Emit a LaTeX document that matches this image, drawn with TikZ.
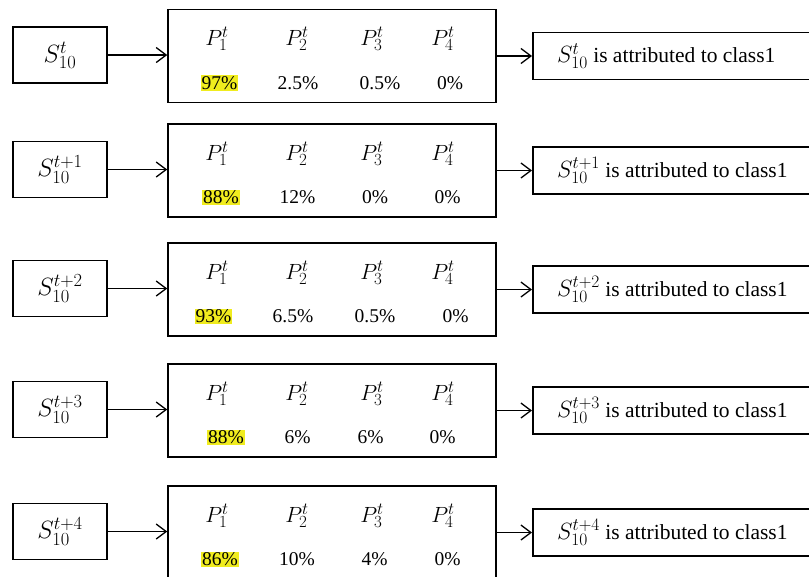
\RequirePackage{fix-cm}
\documentclass[tikz,border=0pt]{standalone}
\usepackage{fontspec}
\setmainfont{Liberation Serif}
\usetikzlibrary{arrows.meta}
\DeclareMathSizes{25}{25}{18.5}{14}
\DeclareMathSizes{23.5}{23.5}{17.5}{13}
\DeclareMathSizes{22}{22}{17}{13}
\definecolor{hl}{RGB}{240,236,30}
\tikzset{
  box/.style={draw=black, line width=1.5pt, inner sep=0pt},
  leftbox/.style={box, minimum width=94pt, minimum height=56pt, font=\fontsize{25}{29}\selectfont},
  midbox/.style={box, minimum width=328pt, minimum height=93pt},
  rightbox/.style={box, minimum width=300pt, minimum height=47pt, anchor=west},
  plabel/.style={inner sep=0pt, font=\fontsize{22}{26}\selectfont},
  val/.style={inner sep=0pt, font=\fontsize{19.5}{23}\selectfont},
  hval/.style={val, fill=hl, inner sep=1pt},
  rtext/.style={inner sep=0pt, anchor=west, font=\fontsize{21.5}{26}\selectfont},
  conn/.style={line width=1.3pt, -{Straight Barb[length=10pt,width=15pt,line width=1.3pt]}}
}
\newcommand{\bigS}[1]{{\fontsize{23.5}{27}\selectfont$S_{10}^{#1}$}}
\begin{document}
\begin{tikzpicture}[x=1pt,y=-1pt]
\useasboundingbox (0,0) rectangle (809,576);
\begin{scope}
\clip (0,0) rectangle (809,576);
\foreach \i/\cy/\sup/\va/\vb/\vc/\vd/\xa/\xb/\xc/\xd in {
  1/56/t/97\%/2.5\%/0.5\%/0\%/219.5/298/380/450,
  2/170.5/t+1/88\%/12\%/0\%/0\%/221/297.5/375/447.5,
  3/289.5/t+2/93\%/6.5\%/0.5\%/0\%/213.5/293/375/455.5,
  4/410.5/t+3/88\%/6\%/6\%/0\%/226/297.5/370.5/442.5,
  5/532.5/t+4/86\%/10\%/4\%/0\%/220/297/374.5/447.5}{
  \node[leftbox] (L\i) at (60,\cy-1) {$S_{10}^{\sup}$};
  \node[midbox] (M\i) at (332,\cy) {};
  \node[rightbox] (R\i) at (532,\cy) {};
  \node[rtext] (RT\i) at (557,\cy) {\bigS{\sup} is attributed to class1};
  \node[plabel] (P1\i) at (217,\cy-17) {$P_1^t$};
  \node[plabel] (P2\i) at (297,\cy-17) {$P_2^t$};
  \node[plabel] (P3\i) at (372,\cy-17) {$P_3^t$};
  \node[plabel] (P4\i) at (443,\cy-17) {$P_4^t$};
  \node[hval] (V1\i) at (\xa,\cy+27) {\va};
  \node[val] (V2\i) at (\xb,\cy+27) {\vb};
  \node[val] (V3\i) at (\xc,\cy+27) {\vc};
  \node[val] (V4\i) at (\xd,\cy+27) {\vd};
  \draw[conn] (L\i.east) -- (L\i.east -| M\i.west);
  \draw[conn] (M\i.east |- R\i.west) -- (R\i.west);
}
\end{scope}
\end{tikzpicture}
\end{document}
